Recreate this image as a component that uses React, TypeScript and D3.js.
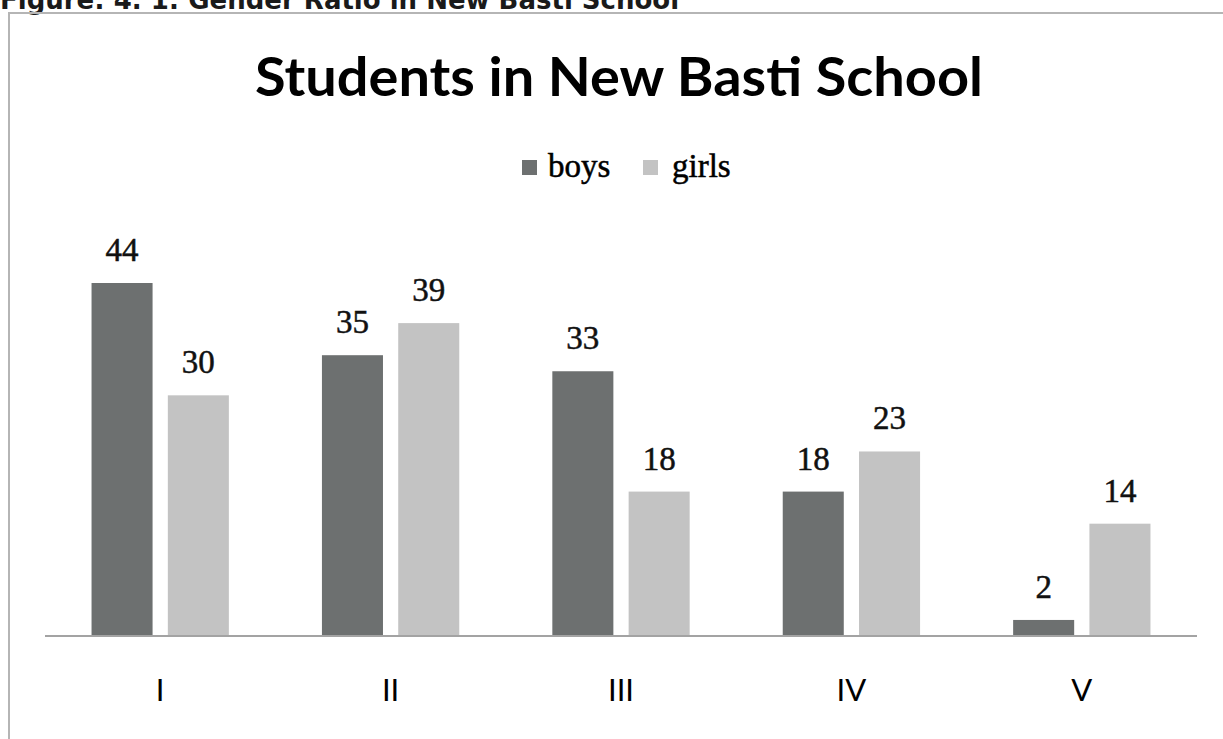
import React from "react";
import * as d3 from "d3";

const categories = ["I", "II", "III", "IV", "V"];
const seriesNames = ["boys", "girls"];
const boys = [44, 35, 33, 18, 2];
const girls = [30, 39, 18, 23, 14];
const seriesColors = ["#6d7070", "#c3c3c3"];
const titleText = "Students in New Basti School";
const captionText = "Figure: 4. 1: Gender Ratio in New Basti School";

const W = 1223;
const H = 739;

export default function App() {
  const x0 = d3.scaleBand<string>().domain(categories).range([45, 1197]).paddingInner(0).paddingOuter(0);
  const x1 = d3
    .scaleBand<string>()
    .domain(seriesNames)
    .range([0, x0.bandwidth()])
    .paddingInner(0.2)
    .paddingOuter(0.61);
  const y = d3.scaleLinear().domain([0, 44]).range([636, 283]);
  const values = [boys, girls];

  return (
    <svg
      width={W}
      height={H}
      style={{ position: "fixed", left: 0, top: 0, background: "#fff" }}
    >
      <rect x={0} y={0} width={W} height={H} fill="#fff" />
      {/* caption (cut off at top) */}
      <text
        x={0}
        y={9}
        fontFamily="DejaVu Sans"
        fontWeight="bold"
        fontSize={26}
        fill="#1a1a1a"
      >
        {captionText}
      </text>
      {/* frame */}
      <path d={`M9,${H} L9,13 L${W},13`} fill="none" stroke="#b5b5b5" strokeWidth={2} />
      {/* title */}
      <text
        x={619}
        y={96}
        textAnchor="middle"
        fontFamily="Lato"
        fontWeight="bold"
        fontSize={54}
        textLength={728}
        lengthAdjust="spacingAndGlyphs"
        fill="#000"
      >
        {titleText}
      </text>
      {/* legend */}
      <g>
        <rect x={522} y={160} width={15} height={15} fill={seriesColors[0]} />
        <text x={548} y={177} fontFamily="Liberation Serif" fontSize={33} fill="#000" stroke="#000" strokeWidth={0.5}>
          {seriesNames[0]}
        </text>
        <rect x={643} y={160} width={15} height={15} fill={seriesColors[1]} />
        <text x={672} y={177} fontFamily="Liberation Serif" fontSize={33} fill="#000" stroke="#000" strokeWidth={0.5}>
          {seriesNames[1]}
        </text>
      </g>
      {/* bars */}
      {categories.map((c, i) => (
        <g key={c} transform={`translate(${x0(c)},0)`}>
          {seriesNames.map((s, j) => {
            const v = values[j][i];
            const bx = x1(s) as number;
            return (
              <g key={s}>
                <rect
                  x={bx}
                  y={y(v)}
                  width={x1.bandwidth()}
                  height={y(0) - y(v)}
                  fill={seriesColors[j]}
                />
                <text
                  x={bx + x1.bandwidth() / 2}
                  y={y(v) - 22}
                  textAnchor="middle"
                  fontFamily="Liberation Serif"
                  fontSize={33}
                  fill="#111"
                  stroke="#111"
                  strokeWidth={0.5}
                >
                  {v}
                </text>
              </g>
            );
          })}
          <text
            x={x0.bandwidth() / 2}
            y={701}
            textAnchor="middle"
            fontFamily="Lato"
            fontSize={31}
            fill="#000"
          >
            {c}
          </text>
        </g>
      ))}
      {/* axis line */}
      <line x1={45} x2={1197} y1={y(0)} y2={y(0)} stroke="#a3a3a3" strokeWidth={2} />
    </svg>
  );
}
